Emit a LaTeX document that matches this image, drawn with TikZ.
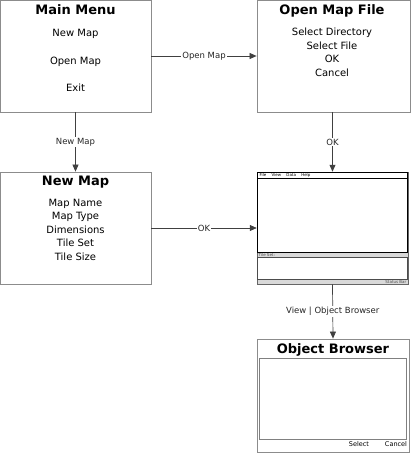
\documentclass[tikz,border=0pt]{standalone}
\usepackage{fontspec}
\setmainfont{DejaVu Sans}
\usetikzlibrary{arrows.meta}

\begin{document}
\begin{tikzpicture}[x=1pt, y=-1pt,
    screen/.style={draw=black!45, line width=0.8pt, inner sep=0pt, minimum width=151pt, minimum height=112pt},
    heading/.style={font=\fontsize{13}{15}\selectfont\bfseries, inner sep=0pt},
    entry/.style={font=\fontsize{10}{13.5}\selectfont, align=center, inner sep=0pt},
    tiny/.style={font=\fontsize{4}{4}\selectfont, inner sep=0.5pt},
    flow/.style={draw=black!75, line width=0.7pt, -{Triangle[length=7pt, width=6pt]}},
    flowlabel/.style={font=\fontsize{8.5}{10}\selectfont, fill=white, inner sep=1pt, text=black!85}]
  \useasboundingbox (0,0) rectangle (411,455);

  % main menu
  \node[screen] (mainmenu) at (75.5,56) {};
  \node[heading] (mainmenutitle) at (75.5,10) {Main Menu};
  \node[entry] (menunew) at (75.5,34) {New Map};
  \node[entry] (menuopen) at (75.5,62) {Open Map};
  \node[entry] (menuexit) at (75.5,88) {Exit};

  % open map file
  \node[screen, minimum width=153pt] (openfile) at (333.5,56) {};
  \node[heading] (openfiletitle) at (332,11) {Open Map File};
  \node[entry, anchor=north] (openfileitems) at (332,28) {Select Directory\\Select File\\OK\\Cancel};

  % new map
  \node[screen] (newmap) at (75.5,228) {};
  \node[heading] (newmaptitle) at (75.5,182) {New Map};
  \node[entry, anchor=north] (newmapitems) at (75.5,199) {Map Name\\Map Type\\Dimensions\\Tile Set\\Tile Size};

  % editor window
  \node[draw=black!60, line width=0.5pt, inner sep=0pt, minimum width=151pt, minimum height=112pt] (window) at (332.5,228) {};
  \draw[black, line width=1pt] (257.5,172.5) rectangle (407.5,252);
  \draw[black, line width=0.6pt] (257.5,178) -- (407.5,178);
  \node[tiny, anchor=west] (menubar) at (259,175.3) {File \quad View \quad Data \quad Help};
  \fill[black!15] (257.5,252.5) rectangle (407.5,257);
  \node[tiny, anchor=west, text=black!70] (tilesetlabel) at (258,254.8) {Tile Set:};
  \draw[black!70, line width=0.6pt] (257.5,257) rectangle (407.5,279);
  \fill[black!15] (257.5,279.5) rectangle (407.5,284);
  \node[tiny, anchor=east, text=black!70] (statusbar) at (407,281.8) {Status Bar};

  % object browser
  \node[screen, minimum width=152pt, minimum height=113pt] (objbrowser) at (333,395.5) {};
  \node[heading] (objbrowsertitle) at (333,350) {Object Browser};
  \draw[black!50, line width=0.8pt] (259.5,358) rectangle (406.5,439);
  \node[font=\fontsize{6.5}{8}\selectfont, inner sep=0pt] (selectbtn) at (359,444.5) {Select};
  \node[font=\fontsize{6.5}{8}\selectfont, inner sep=0pt] (cancelbtn) at (396,444.5) {Cancel};

  % transitions
  \draw[flow] (mainmenu.east) -- node[flowlabel] {Open Map} (openfile.west);
  \draw[flow] (mainmenu.south) -- node[flowlabel] {New Map} (newmap.north);
  \draw[flow] (openfile.south -| window.north) -- node[flowlabel] {OK} (window.north);
  \draw[flow] (newmap.east) -- node[flowlabel] {OK} (window.west);
  \draw[flow] (window.south) -- node[flowlabel, pos=0.5] {View | Object Browser} (objbrowser.north);
\end{tikzpicture}
\end{document}
